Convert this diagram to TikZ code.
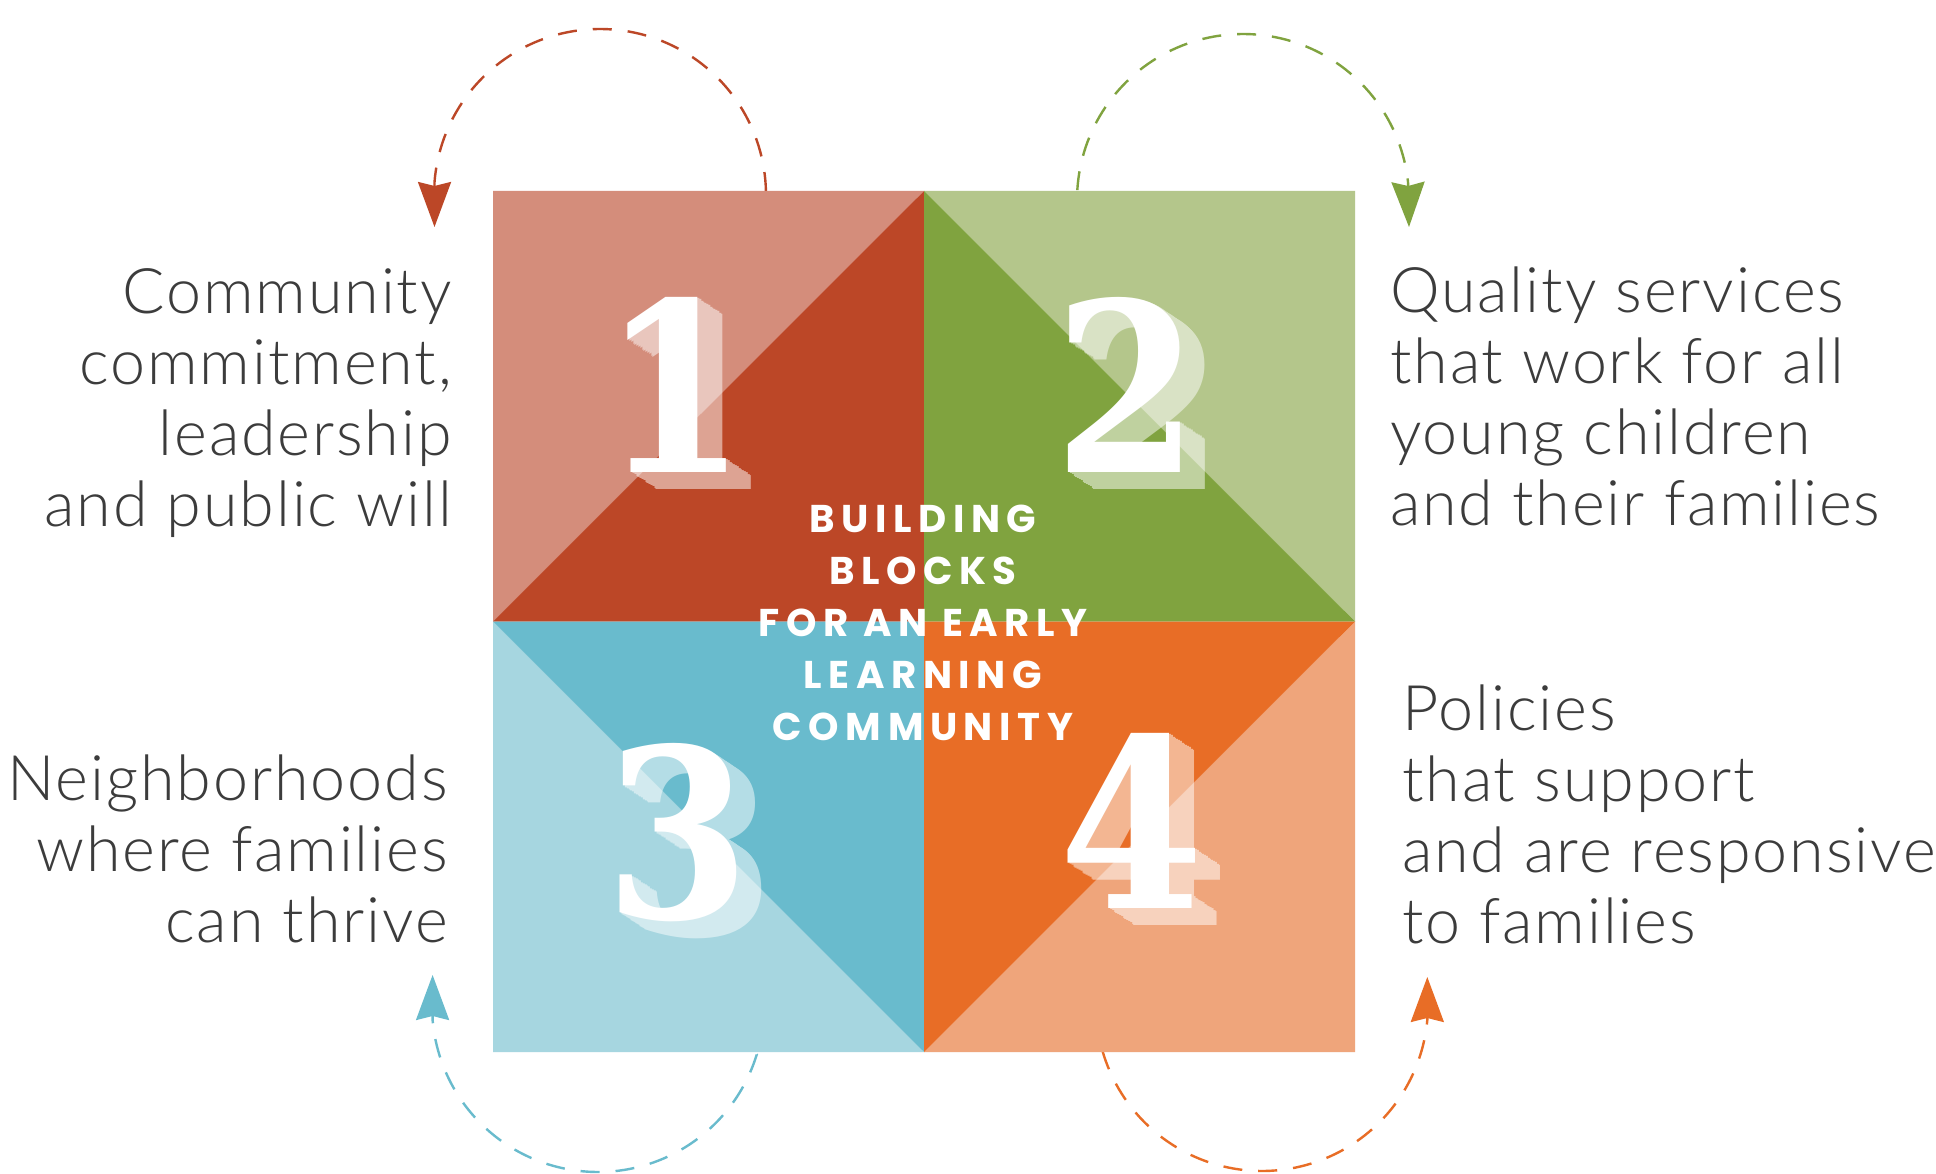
\documentclass[tikz,border=0pt]{standalone}
\usepackage{fontspec}
\usetikzlibrary{arrows.meta,calc}
\newfontfamily\sidefont{Lato Light}[LetterSpace=3]
\newfontfamily\ctrfont{Poppins}[LetterSpace=17]
\newfontfamily\numfont{DejaVu Serif}
\definecolor{rustD}{HTML}{BC4727}
\definecolor{rustL}{HTML}{D48D7B}
\definecolor{grnD}{HTML}{80A33F}
\definecolor{grnL}{HTML}{B4C68B}
\definecolor{bluD}{HTML}{69BBCD}
\definecolor{bluL}{HTML}{A6D6E0}
\definecolor{orgD}{HTML}{E86D26}
\definecolor{orgL}{HTML}{EFA57B}
\definecolor{txtgray}{HTML}{3C3C3C}
\tikzset{
  digitstyle/.style={text=white, inner sep=0pt, font=\numfont\bfseries\fontsize{236}{236}\selectfont},
  sidetext/.style={text=txtgray, inner sep=0pt, font=\sidefont\fontsize{62.8}{71}\selectfont},
  ctrtext/.style={text=white, inner sep=0pt, align=center, font=\ctrfont\bfseries\fontsize{38.7}{52}\selectfont},
  loop arrow/.style={dash pattern=on 19pt off 16pt, line width=2.4pt,
    -{Stealth[length=45pt,width=33pt,inset=4pt]}}
}
\newcommand\digitblock[4]{%
  \begin{scope}[transparency group, opacity=0.5]
    \foreach \k in {1,...,14} {\node[digitstyle] (#1s\k) at (#2+\k*1.8,#3+\k*1.2) {\scalebox{0.88}[1]{#4}};}
  \end{scope}
  \node[digitstyle] (#1) at (#2,#3) {\scalebox{0.88}[1]{#4}};}
\begin{document}
\begin{tikzpicture}[x=1pt,y=-1pt]
\useasboundingbox[fill=white] (0,0) rectangle (1936,1174);
% arcs
\coordinate (a1s) at (765.9,190.9);
\coordinate (a1t) at (434.5,227);
\coordinate (a2s) at (1077.3,190.2);
\coordinate (a2t) at (1409,227);
\coordinate (a3s) at (756.7,1054.5);
\coordinate (a3t) at (432.6,975);
\coordinate (a4s) at (1102.6,1051.3);
\coordinate (a4t) at (1427.3,977);
\draw[loop arrow, rustD] (a1s) -- plot[domain=-1.4:-175.5, samples=90] ({600+166*cos(\x)},{195+166*sin(\x)}) -- (a1t);
\draw[loop arrow, grnD] (a2s) -- plot[domain=-176.6:-6.2, samples=90] ({1243+166*cos(\x)},{200+166*sin(\x)}) -- (a2t);
\draw[loop arrow, bluD] (a3s) -- plot[domain=17:175.2, samples=90] ({598+166*cos(\x)},{1006+166*sin(\x)}) -- (a3t);
\draw[loop arrow, orgD] (a4s) -- plot[domain=163.8:5.2, samples=90] ({1262+166*cos(\x)},{1005+166*sin(\x)}) -- (a4t);
% square
\coordinate (TL) at (493,191);
\coordinate (TR) at (1355,191);
\coordinate (BL) at (493,1052);
\coordinate (BR) at (1355,1052);
\coordinate (C) at (924,621.5);
\coordinate (T) at (924,191);
\coordinate (B) at (924,1052);
\coordinate (L) at (493,621.5);
\coordinate (R) at (1355,621.5);
\fill[rustL] (TL) -- (T) -- (L) -- cycle;
\fill[rustD] (T) -- (C) -- (L) -- cycle;
\fill[grnL] (T) -- (TR) -- (R) -- cycle;
\fill[grnD] (T) -- (R) -- (C) -- cycle;
\fill[bluL] (L) -- (B) -- (BL) -- cycle;
\fill[bluD] (L) -- (C) -- (B) -- cycle;
\fill[orgL] (R) -- (BR) -- (B) -- cycle;
\fill[orgD] (R) -- (B) -- (C) -- cycle;
% digits
\digitblock{n1}{675}{385}{1}
\digitblock{n2}{1127}{385}{2}
\digitblock{n3}{678}{833}{3}
\digitblock{n4}{1132}{821}{4}
% centre title
\node[ctrtext] (title) at (923,623) {BUILDING\\BLOCKS\\FOR AN EARLY\\LEARNING\\COMMUNITY};
% side texts
\node[sidetext, align=right, anchor=base east] (t1) at (452,526) {Community\\commitment,\\leadership\\and public will};
\node[sidetext, align=left, anchor=base west] (t2) at (1390,525) {Quality services\\that work for all\\young children\\and their families};
\node[sidetext, align=right, anchor=base east] (t3) at (448,942) {Neighborhoods\\where families\\can thrive};
\node[sidetext, align=left, anchor=base west] (t4) at (1402,943) {Policies\\that support\\and are responsive\\to families};
\end{tikzpicture}
\end{document}
